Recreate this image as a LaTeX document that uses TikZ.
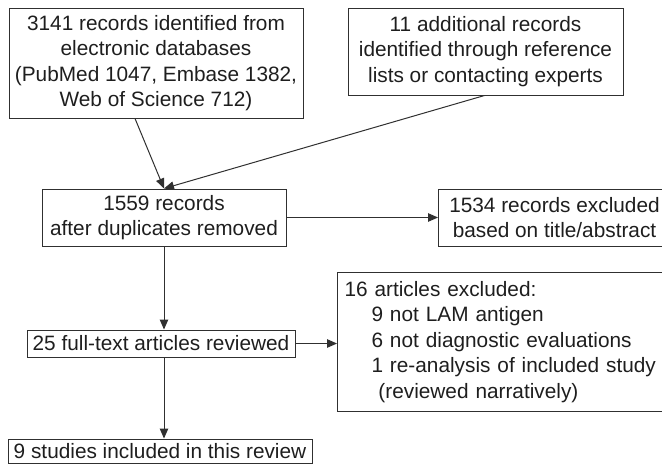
\documentclass[tikz,border=0pt]{standalone}
\usepackage{fontspec}
\setmainfont{Liberation Sans}
\usetikzlibrary{arrows.meta}
\definecolor{linegray}{HTML}{303030}
\definecolor{textgray}{HTML}{1E1E1E}
\begin{document}
\begin{tikzpicture}[x=1pt, y=-1pt,
  every node/.style={font=\fontsize{20.8}{25.5}\selectfont, text=textgray},
  box/.style={draw=linegray, line width=1pt, align=center, inner sep=2pt},
  arr/.style={-{Triangle[length=10pt,width=8.5pt]}, draw=linegray, line width=1pt}]
\useasboundingbox (0,0) rectangle (662,464);

\node[box, minimum width=294pt, minimum height=110pt] (db) at (156,63)
{3141 records identified from\\ electronic databases\\ (PubMed 1047, Embase 1382,\\ Web of Science 712)};

\node[box, minimum width=275pt, minimum height=87pt] (extra) at (485.5,51.5)
{11 additional records\\ identified through reference\\ lists or contacting experts};

\node[box, minimum width=244pt, minimum height=57pt] (dedup) at (164,217.5)
{1559 records\\ after duplicates removed};

\node[box, anchor=west, minimum width=232pt, minimum height=57pt] (screenout) at (438,217.5)
{1534 records excluded\\ based on title/abstract};

\node[box, anchor=north west, align=left, minimum width=340pt, minimum height=139pt,
  inner xsep=7pt, text width=326pt] (fullout) at (337,272)
{16 articles excluded:\\
 \hspace*{27pt}9 not LAM antigen\\
 \hspace*{27pt}6 not diagnostic evaluations\\
 \hspace*{27pt}1 re-analysis of included study\\
 \hspace*{27pt}\ (reviewed narratively)};

\node[box, minimum width=268pt, minimum height=27pt] (fulltext) at (161,343.5)
{25 full-text articles reviewed};

\node[box, minimum width=304pt, minimum height=24pt] (included) at (160,451)
{9 studies included in this review};

\draw[arr] ([xshift=-21pt]db.south) -- (dedup.north);
\draw[arr] ([xshift=-1pt]extra.south) -- (dedup.north);
\draw[arr] (dedup.east) -- (screenout.west);
\draw[arr] (dedup.south) -- (dedup.south |- fulltext.north);
\draw[arr] (fulltext.east) -- (fulltext.east -| fullout.west);
\draw[arr] (dedup.south |- fulltext.south) -- (dedup.south |- included.north);
\end{tikzpicture}
\end{document}
